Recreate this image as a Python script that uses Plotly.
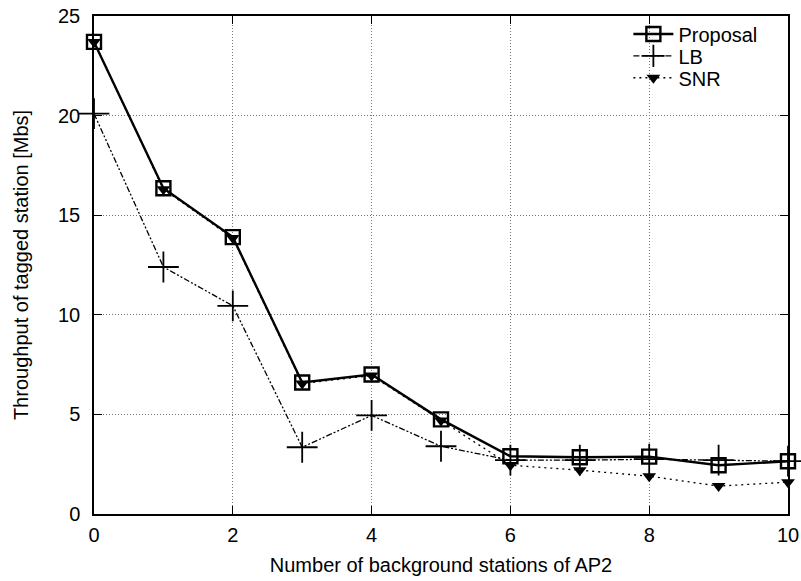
import plotly.graph_objects as go

x_vals = [0, 1, 2, 3, 4, 5, 6, 7, 8, 9, 10]
proposal = [23.7, 16.35, 13.9, 6.6, 7.0, 4.75, 2.9, 2.85, 2.88, 2.45, 2.65]
lb = [20.1, 12.4, 10.45, 3.35, 4.95, 3.4, 2.7, 2.7, 2.75, 2.7, 2.65]
snr = [23.7, 16.3, 13.85, 6.55, 6.95, 4.7, 2.45, 2.2, 1.9, 1.4, 1.6]

x_ticks = [0, 2, 4, 6, 8, 10]
y_ticks = [0, 5, 10, 15, 20, 25]

fig = go.Figure()
fig.add_trace(go.Scatter(
    x=x_vals, y=proposal, name="Proposal", mode="lines+markers",
    line=dict(color="black", width=2.4),
    marker=dict(symbol="square-open", size=14, color="black", line=dict(width=2.4)),
    cliponaxis=False, legend="legend",
))
fig.add_trace(go.Scatter(
    x=x_vals, y=lb, name="LB", mode="lines+markers",
    line=dict(color="black", width=1.3, dash="6px,2px,2px,2px,2px,2px"),
    marker=dict(symbol="cross-thin-open", size=22, color="black", line=dict(width=1.8, color="black")),
    cliponaxis=False, legend="legend2",
))
fig.add_trace(go.Scatter(
    x=x_vals, y=snr, name="SNR", mode="lines+markers",
    line=dict(color="black", width=1.3, dash="2px,4px"),
    marker=dict(symbol="triangle-down", size=12, color="black"),
    cliponaxis=False, legend="legend3",
))

axis_common = dict(
    showline=True, linecolor="black", linewidth=1.5, mirror="allticks",
    ticks="inside", ticklen=8, tickwidth=1, tickcolor="black",
    showgrid=True, gridcolor="#777777", griddash="1px,2px", gridwidth=1,
    zeroline=False, automargin=False,
    tickfont=dict(size=20, color="black"),
)

leg_common = dict(xanchor="left", yanchor="middle", x=0.77,
                  bgcolor="rgba(0,0,0,0)", borderwidth=0,
                  font=dict(size=20), itemwidth=40)

fig.update_layout(
    width=801, height=581,
    margin=dict(l=94, r=13, t=16, b=67),
    plot_bgcolor="white", paper_bgcolor="white",
    font=dict(family="Liberation Sans, Arial, sans-serif", size=20, color="black"),
    xaxis=dict(range=[0, 10], tickvals=x_ticks, ticklabelstandoff=2,
               title=dict(text="Number of background stations of AP2", font=dict(size=20), standoff=13),
               **axis_common),
    yaxis=dict(range=[0, 25], tickvals=y_ticks, ticklabelstandoff=8,
               title=dict(text="Throughput of tagged station [Mbs]", font=dict(size=20), standoff=24),
               **axis_common),
    legend=dict(y=0.964, **leg_common),
    legend2=dict(y=0.920, **leg_common),
    legend3=dict(y=0.876, **leg_common),
    showlegend=True,
)

fig.write_html("out.html")
